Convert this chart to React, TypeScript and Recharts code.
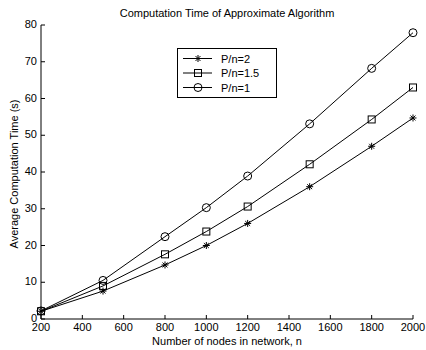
import { Label, Legend, Line, LineChart, XAxis, YAxis } from "recharts";

const NODES = [200, 500, 800, 1000, 1200, 1500, 1800, 2000];
const TIME_PN2 = [2.1, 7.6, 14.7, 20.0, 26.0, 36.0, 47.0, 54.7];
const TIME_PN15 = [2.1, 9.0, 17.6, 23.8, 30.6, 42.1, 54.3, 63.0];
const TIME_PN1 = [2.2, 10.5, 22.4, 30.3, 38.9, 53.1, 68.2, 77.9];

const X_TICKS = [200, 400, 600, 800, 1000, 1200, 1400, 1600, 1800, 2000];
const Y_TICKS = [0, 10, 20, 30, 40, 50, 60, 70, 80];

const TITLE = "Computation Time of Approximate Algorithm";
const X_LABEL = "Number of nodes in network, n";
const Y_LABEL = "Average Computation Time (s)";

const SERIES = [
  { key: "pn2", name: "P/n=2", marker: "star" },
  { key: "pn15", name: "P/n=1.5", marker: "square" },
  { key: "pn1", name: "P/n=1", marker: "circle" },
] as const;

const data = NODES.map((n, i) => ({
  n,
  pn2: TIME_PN2[i],
  pn15: TIME_PN15[i],
  pn1: TIME_PN1[i],
}));

const WIDTH = 426;
const HEIGHT = 350;
const MARGIN = { top: 25, right: 13, left: 0, bottom: 0 };
const Y_AXIS_W = 41;
const X_AXIS_H = 31;
const PLOT_CX = (Y_AXIS_W + WIDTH - MARGIN.right) / 2;

const FONT = '"Liberation Sans", Arial, Helvetica, sans-serif';
const INK = "#000";
const TICK_LEN = 4;

type MarkerKind = "star" | "square" | "circle";

function Marker({ kind, cx, cy }: { kind: MarkerKind; cx: number; cy: number }) {
  if (kind === "circle") {
    return <circle cx={cx} cy={cy} r={4} fill="none" stroke={INK} strokeWidth={1} />;
  }
  if (kind === "square") {
    return <rect x={cx - 3.5} y={cy - 3.5} width={7} height={7} fill="none" stroke={INK} strokeWidth={1} />;
  }
  const r = 3.5;
  const d = r * 0.7;
  return (
    <g stroke={INK} strokeWidth={1}>
      <line x1={cx - r} y1={cy} x2={cx + r} y2={cy} />
      <line x1={cx} y1={cy - r} x2={cx} y2={cy + r} />
      <line x1={cx - d} y1={cy - d} x2={cx + d} y2={cy + d} />
      <line x1={cx - d} y1={cy + d} x2={cx + d} y2={cy - d} />
    </g>
  );
}

// MATLAB-style ticks point into the plot box; labels sit outside.
function BottomTick(props: any) {
  const { x, y, payload } = props;
  return (
    <g>
      <line x1={x} y1={y} x2={x} y2={y - TICK_LEN} stroke={INK} />
      <text x={x} y={y + 12} textAnchor="middle" fontSize={11} fontFamily={FONT} fill={INK}>
        {payload.value}
      </text>
    </g>
  );
}

function TopTick(props: any) {
  const { x, y } = props;
  return <line x1={x} y1={y} x2={x} y2={y + TICK_LEN} stroke={INK} />;
}

function LeftTick(props: any) {
  const { x, y, payload } = props;
  return (
    <g>
      <line x1={x} y1={y} x2={x + TICK_LEN} y2={y} stroke={INK} />
      <text x={x - 4} y={y + 3} textAnchor="end" fontSize={11} fontFamily={FONT} fill={INK}>
        {payload.value}
      </text>
    </g>
  );
}

function RightTick(props: any) {
  const { x, y } = props;
  return <line x1={x} y1={y} x2={x - TICK_LEN} y2={y} stroke={INK} />;
}

function LegendBox() {
  return (
    <svg width={100} height={50} style={{ display: "block" }}>
      <rect x={0.5} y={0.5} width={99} height={49} fill="#fff" stroke={INK} />
      {SERIES.map((s, i) => {
        const cy = 10.5 + i * 14.5;
        return (
          <g key={s.key}>
            <line x1={6} y1={cy} x2={35} y2={cy} stroke={INK} />
            <Marker kind={s.marker} cx={21} cy={cy} />
            <text x={44} y={cy + 4} fontSize={11} fontFamily={FONT} fill={INK}>
              {s.name}
            </text>
          </g>
        );
      })}
    </svg>
  );
}

export default function App() {
  return (
    <div style={{ position: "absolute", left: 0, top: 0, width: WIDTH, height: HEIGHT, background: "#fff" }}>
      <LineChart width={WIDTH} height={HEIGHT} data={data} margin={MARGIN}>
        <XAxis
          dataKey="n"
          type="number"
          domain={[200, 2000]}
          ticks={X_TICKS}
          interval={0}
          height={X_AXIS_H}
          tickSize={0}
          tickMargin={0}
          tickLine={false}
          tick={<BottomTick />}
          axisLine={{ stroke: INK }}
        >
          <Label
            content={({ viewBox }: any) => (
              <text
                x={viewBox.x + viewBox.width / 2}
                y={viewBox.y + 26}
                textAnchor="middle"
                fontSize={11}
                fontFamily={FONT}
                fill={INK}
              >
                {X_LABEL}
              </text>
            )}
          />
        </XAxis>
        <XAxis
          xAxisId="top"
          orientation="top"
          dataKey="n"
          type="number"
          domain={[200, 2000]}
          ticks={X_TICKS}
          interval={0}
          height={0}
          tickSize={0}
          tickMargin={0}
          tickLine={false}
          tick={<TopTick />}
          axisLine={{ stroke: INK }}
        />
        <YAxis
          type="number"
          domain={[0, 80]}
          ticks={Y_TICKS}
          interval={0}
          width={Y_AXIS_W}
          tickSize={0}
          tickMargin={0}
          tickLine={false}
          tick={<LeftTick />}
          axisLine={{ stroke: INK }}
        >
          <Label
            content={({ viewBox }: any) => {
              const cx = 14;
              const cy = viewBox.y + viewBox.height / 2 + 2;
              return (
                <g>
                  <text
                    x={cx}
                    y={cy}
                    transform={`rotate(-90 ${cx} ${cy})`}
                    textAnchor="middle"
                    dominantBaseline="central"
                    fontSize={11}
                    fontFamily={FONT}
                    fill={INK}
                  >
                    {Y_LABEL}
                  </text>
                  <text
                    x={PLOT_CX}
                    y={viewBox.y - 8}
                    textAnchor="middle"
                    fontSize={11}
                    fontFamily={FONT}
                    fill={INK}
                  >
                    {TITLE}
                  </text>
                </g>
              );
            }}
          />
        </YAxis>
        <YAxis
          yAxisId="right"
          orientation="right"
          type="number"
          domain={[0, 80]}
          ticks={Y_TICKS}
          interval={0}
          width={0}
          tickSize={0}
          tickMargin={0}
          tickLine={false}
          tick={<RightTick />}
          axisLine={{ stroke: INK }}
        />
        <Legend
          layout="horizontal"
          verticalAlign="middle"
          wrapperStyle={{ left: 177, top: 48, width: 100, height: 50 }}
          content={() => <LegendBox />}
        />
        {SERIES.map((s) => (
          <Line
            key={s.key}
            dataKey={s.key}
            name={s.name}
            type="linear"
            stroke={INK}
            strokeWidth={1}
            isAnimationActive={false}
            dot={(p: any) => <Marker key={`${s.key}-${p.index}`} kind={s.marker} cx={p.cx} cy={p.cy} />}
            activeDot={false}
          />
        ))}
      </LineChart>
    </div>
  );
}
